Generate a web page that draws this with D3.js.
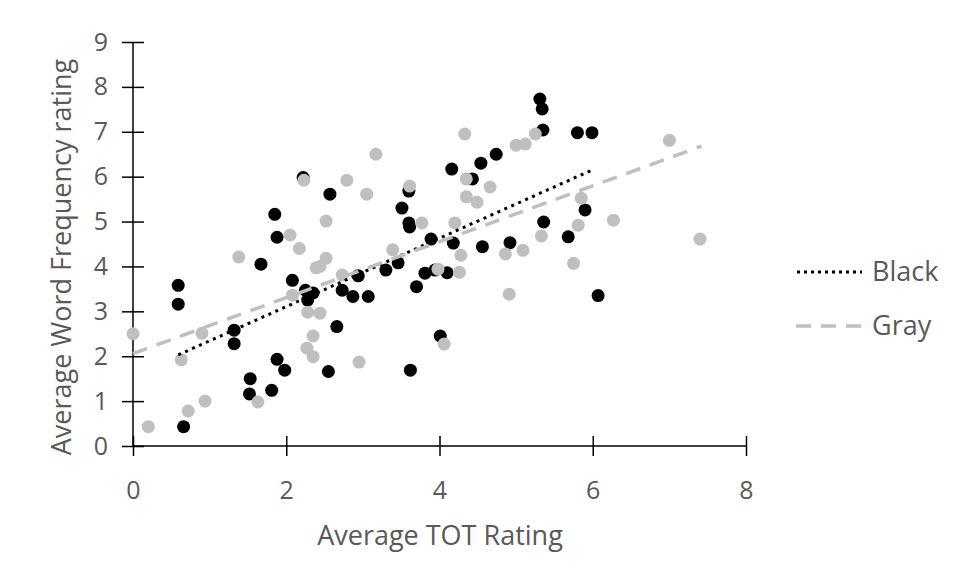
<!DOCTYPE html>
<html><head><meta charset="utf-8">
<script src="https://cdn.jsdelivr.net/npm/d3@7"></script>
<style>body{margin:0;background:#fff}svg{display:block}text{font-family:"Open Sans",sans-serif;fill:#595959}</style>
</head><body><svg id="c" width="956" height="575"></svg>
<script>
const blackX=[0.59,0.59,0.66,1.32,1.32,1.53,1.52,1.67,1.81,1.88,1.85,1.88,1.98,2.08,2.22,2.25,2.35,2.28,2.57,2.66,2.55,2.73,2.87,2.94,3.07,3.30,3.46,3.51,3.60,3.61,3.60,3.62,3.70,3.81,3.94,3.89,4.01,4.10,4.16,4.18,4.43,4.54,4.56,4.74,4.92,5.31,5.34,5.35,5.36,5.80,5.99,5.90,5.68,6.07];
const blackY=[3.58,3.16,0.43,2.58,2.28,1.50,1.16,4.05,1.24,1.93,5.16,4.65,1.69,3.69,5.98,3.47,3.41,3.25,5.61,2.66,1.66,3.47,3.33,3.79,3.33,3.92,4.08,5.30,4.97,4.88,5.68,1.69,3.55,3.85,3.92,4.61,2.45,3.86,6.17,4.52,5.95,6.30,4.44,6.50,4.53,7.73,7.51,7.04,4.99,6.98,6.98,5.26,4.66,3.35];
const grayX=[0.00,0.20,0.63,0.72,0.90,0.94,1.38,1.63,2.05,2.17,2.08,2.23,2.28,2.44,2.35,2.27,2.35,2.39,2.44,2.52,2.52,2.79,2.73,2.95,3.05,3.17,3.39,3.61,3.77,3.98,4.06,4.20,4.26,4.28,4.33,4.35,4.35,4.49,4.66,4.86,4.91,5.00,5.12,5.25,5.09,5.33,5.75,5.81,5.85,6.27,7.00,7.40];
const grayY=[2.50,0.43,1.92,0.78,2.51,1.00,4.21,0.98,4.70,4.40,3.36,5.92,2.98,2.96,2.45,2.18,1.99,3.97,4.00,4.18,5.01,5.92,3.81,1.87,5.61,6.50,4.37,5.79,4.97,3.94,2.27,4.97,3.87,4.25,6.95,5.95,5.55,5.43,5.77,4.28,3.38,6.70,6.73,6.95,4.36,4.68,4.07,4.92,5.52,5.03,6.81,4.61];
const blackTrendX=[0.59,6.02], blackTrendY=[2.03,6.17];
const grayTrendX=[0.00,7.42], grayTrendY=[2.06,6.68];
const xTicks=[0,2,4,6,8], yTicks=[0,1,2,3,4,5,6,7,8,9];
const seriesNames=["Black","Gray"];
const xTitle="Average TOT Rating", yTitle="Average Word Frequency rating";

const svg=d3.select("#c");
const x=d3.scaleLinear().domain([0,8]).range([133,746]);
const y=d3.scaleLinear().domain([0,9]).range([446,42]);

const tickFont=25, titleFont=27;
const gx=svg.append("g").attr("transform","translate(0,446)")
  .call(d3.axisBottom(x).tickValues(xTicks).tickFormat(d3.format("d")).tickSize(10).tickPadding(25));
gx.selectAll(".tick line").attr("y1",-10).attr("y2",10);
const gy=svg.append("g").attr("transform","translate(133,0)")
  .call(d3.axisLeft(y).tickValues(yTicks).tickFormat(d3.format("d")).tickSize(11).tickPadding(14));
gy.selectAll(".tick line").attr("x1",-11).attr("x2",11);
[gx,gy].forEach(g=>{
  g.select(".domain").attr("stroke","#000").attr("stroke-width",1.5);
  g.selectAll(".tick line").attr("stroke","#000").attr("stroke-width",1.5);
  g.selectAll(".tick text").attr("font-size",tickFont).attr("fill","#595959").attr("font-family","'Open Sans',sans-serif");
});
gx.select(".domain").attr("d","M133,0H746");
gy.select(".domain").attr("d","M0,42V446");

svg.append("g").selectAll("circle").data(blackX.map((v,i)=>[v,blackY[i]])).join("circle")
  .attr("cx",d=>x(d[0])).attr("cy",d=>y(d[1])).attr("r",6.5).attr("fill","#000");
svg.append("g").selectAll("circle").data(grayX.map((v,i)=>[v,grayY[i]])).join("circle")
  .attr("cx",d=>x(d[0])).attr("cy",d=>y(d[1])).attr("r",6.5).attr("fill","#bfbfbf");

const line=d3.line().x(d=>x(d[0])).y(d=>y(d[1]));
svg.append("path").datum(blackTrendX.map((v,i)=>[v,blackTrendY[i]])).attr("d",line)
  .attr("fill","none").attr("stroke","#000").attr("stroke-width",3).attr("stroke-dasharray","3 4.6");
svg.append("path").datum(grayTrendX.map((v,i)=>[v,grayTrendY[i]])).attr("d",line)
  .attr("fill","none").attr("stroke","#bfbfbf").attr("stroke-width",3.5).attr("stroke-dasharray","15 10");

svg.append("text").attr("x",440).attr("y",545).attr("text-anchor","middle").attr("font-size",titleFont).text(xTitle);
svg.append("text").attr("transform","translate(71,257) rotate(-90)").attr("text-anchor","middle").attr("font-size",titleFont).text(yTitle);

const leg=svg.append("g");
leg.append("line").attr("x1",797).attr("x2",862).attr("y1",272).attr("y2",272)
  .attr("stroke","#000").attr("stroke-width",3).attr("stroke-dasharray","3 4");
leg.append("line").attr("x1",796).attr("x2",866).attr("y1",326).attr("y2",326)
  .attr("stroke","#bfbfbf").attr("stroke-width",3.5).attr("stroke-dasharray","15 10");
leg.append("text").attr("x",872).attr("y",281).attr("font-size",titleFont).text(seriesNames[0]);
leg.append("text").attr("x",872).attr("y",335).attr("font-size",titleFont).text(seriesNames[1]);
</script></body></html>
